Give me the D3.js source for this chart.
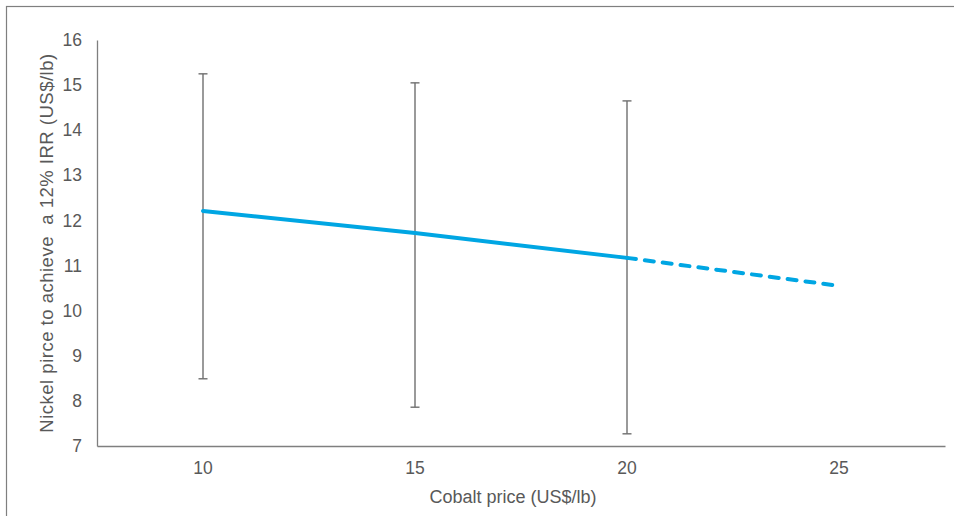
<!DOCTYPE html>
<html>
<head>
<meta charset="utf-8">
<script src="https://cdn.jsdelivr.net/npm/d3@7"></script>
<style>
  body { margin: 0; background: #fff; }
  text { font-family: "Liberation Sans", Arial, sans-serif; fill: #595959; }
</style>
</head>
<body>
<svg id="chart"></svg>
<script>
// cobalt price categories (US$/lb)
const cobalt = [10, 15, 20, 25];
// nickel price needed for 12% IRR, central estimate
const nickel = [12.21, 11.72, 11.17, 10.55];
// error bar range (only for the first three points)
const errLow = [8.49, 7.86, 7.27];
const errHigh = [15.25, 15.05, 14.65];
const yTicks = [7, 8, 9, 10, 11, 12, 13, 14, 15, 16];

const width = 954, height = 516;
const margin = {top: 40, right: 9, bottom: 70, left: 97};

const svg = d3.select("#chart")
    .attr("width", width)
    .attr("height", height);

// outer frame
svg.append("rect")
    .attr("x", 6.5).attr("y", 6.5)
    .attr("width", width + 10).attr("height", height + 10)
    .attr("fill", "none")
    .attr("stroke", "#7f7f7f")
    .attr("stroke-width", 1.2);

const x = d3.scaleBand()
    .domain(cobalt)
    .range([margin.left, width - margin.right]);
const cx = d => x(d) + x.bandwidth() / 2;

const y = d3.scaleLinear()
    .domain([7, 16])
    .range([height - margin.bottom, margin.top]);

// axes
const yAxis = svg.append("g")
    .attr("transform", `translate(${margin.left},0)`)
    .call(d3.axisLeft(y).tickValues(yTicks).tickSize(0).tickPadding(15));
yAxis.select(".domain").attr("stroke", "#7f7f7f").attr("stroke-width", 1.3);
yAxis.selectAll("text").style("font-size", "17.5px").attr("fill", "#595959");

const xAxis = svg.append("g")
    .attr("transform", `translate(0,${height - margin.bottom})`)
    .call(d3.axisBottom(x).tickSize(0).tickPadding(16));
xAxis.select(".domain").attr("stroke", "#7f7f7f").attr("stroke-width", 1.3);
xAxis.selectAll("text").style("font-size", "17.5px").attr("fill", "#595959");

// axis titles
svg.append("text")
    .attr("x", 513).attr("y", 503)
    .attr("text-anchor", "middle")
    .style("font-size", "18px")
    .text("Cobalt price (US$/lb)");

svg.append("text")
    .attr("transform", "translate(53,243) rotate(-90)")
    .attr("text-anchor", "middle")
    .style("font-size", "18.5px")
    .style("white-space", "pre")
    .style("letter-spacing", "0.5px")
    .text("Nickel pirce to achieve  a 12% IRR (US$/lb)");

// error bars
const errData = errLow.map((lo, i) => ({c: cobalt[i], lo: lo, hi: errHigh[i]}));
const eb = svg.append("g")
    .attr("stroke", "#6f6f6f")
    .attr("stroke-width", 1.4)
    .selectAll("g")
    .data(errData)
    .join("g");
eb.append("line")
    .attr("x1", d => cx(d.c)).attr("x2", d => cx(d.c))
    .attr("y1", d => y(d.lo)).attr("y2", d => y(d.hi));
eb.append("line")
    .attr("x1", d => cx(d.c) - 4.5).attr("x2", d => cx(d.c) + 4.5)
    .attr("y1", d => y(d.lo)).attr("y2", d => y(d.lo));
eb.append("line")
    .attr("x1", d => cx(d.c) - 4.5).attr("x2", d => cx(d.c) + 4.5)
    .attr("y1", d => y(d.hi)).attr("y2", d => y(d.hi));

// central line: solid for first three, dashed to the last
const pts = cobalt.map((c, i) => ({c: c, v: nickel[i]}));
const line = d3.line().x(d => cx(d.c)).y(d => y(d.v));

svg.append("path")
    .datum(pts.slice(0, 3))
    .attr("d", line)
    .attr("fill", "none")
    .attr("stroke", "#00a6e3")
    .attr("stroke-width", 4)
    .attr("stroke-linecap", "round");

svg.append("path")
    .datum(pts.slice(2))
    .attr("d", line)
    .attr("fill", "none")
    .attr("stroke", "#00a6e3")
    .attr("stroke-width", 4)
    .attr("stroke-linecap", "round")
    .attr("stroke-dasharray", "9,9");
</script>
</body>
</html>
